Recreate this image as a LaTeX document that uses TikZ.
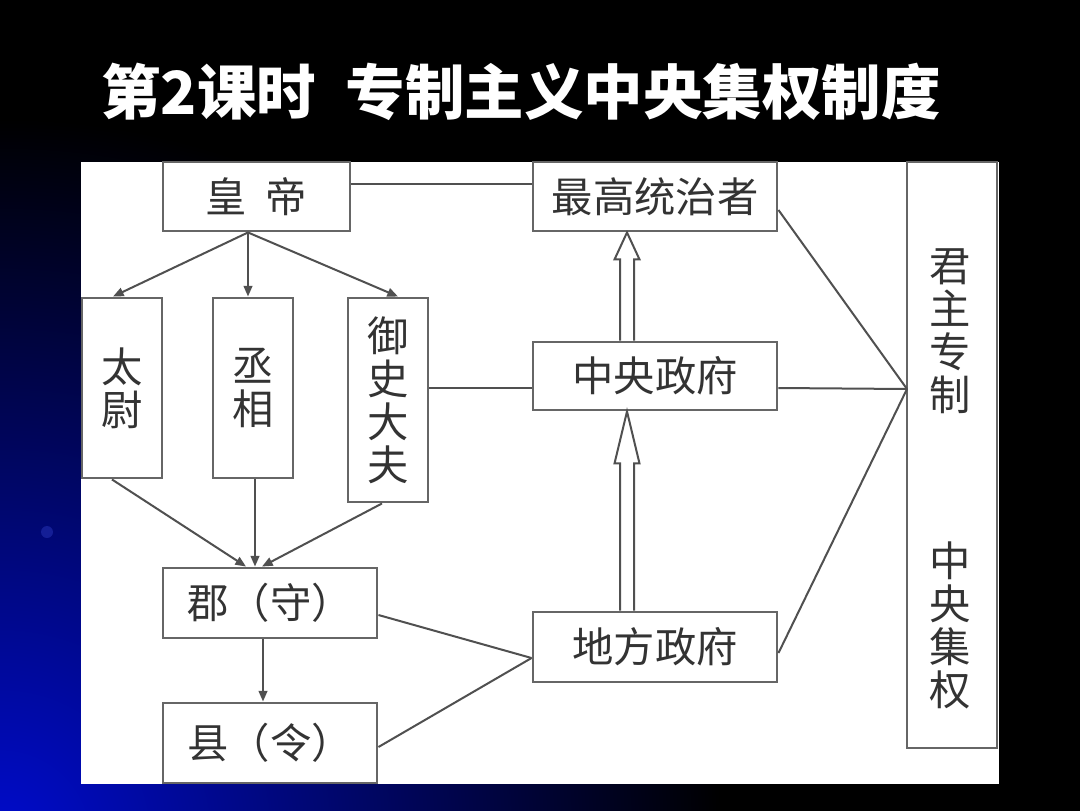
\documentclass[tikz,border=0pt]{standalone}
\usepackage{fontspec}
\newfontfamily\cjk{Noto Sans CJK SC}
\usetikzlibrary{arrows.meta,calc}
\definecolor{ln}{HTML}{505050}
\definecolor{bx}{HTML}{666666}
\definecolor{tx}{HTML}{333333}
\definecolor{bgblue}{RGB}{0,12,205}
\definecolor{dotblue}{RGB}{20,30,150}
\pgfdeclareradialshading{bluecorner}{\pgfpoint{0bp}{0bp}}{color(0bp)=(bgblue); color(11bp)=(black); color(50bp)=(black)}
\begin{document}
\begin{tikzpicture}[x=0.75pt,y=-0.75pt,
  box/.style={draw=bx, line width=2.2pt, fill=white, inner sep=0pt, text=tx,
    font=\cjk\fontsize{31}{32.25}\selectfont, align=center},
  lbl/.style={inner sep=0pt, text=tx, font=\cjk\fontsize{31}{32.25}\selectfont, align=center},
  conn/.style={draw=ln, line width=1.5pt},
  arr/.style={conn, -{Triangle[length=8pt,width=6.5pt]}},
  hollow/.style={draw=ln, line width=1.5pt, fill=white, line join=miter}]
\useasboundingbox (0,0) rectangle (1080,810);
% background
\fill[black] (0,0) rectangle (1080,810);
\begin{scope}
\clip (0,0) rectangle (1080,810);
\shade[shading=bluecorner] (0,840) circle (1640);
\end{scope}
\fill[dotblue] (47,532) circle (6);
% title
\node[text=white, font=\cjk\bfseries\fontsize{44.6}{50}\selectfont, inner sep=0pt] (title) at (521,92)
  {第2课时\hspace{0.5em}专制主义中央集权制度};
% panel
\fill[white] (81,162) rectangle (999,784);
% boxes
\node[box, minimum width=140.25pt, minimum height=51.75pt] (hd) at (256.5,196.5) {皇\hspace{0.45em}帝};
\node[box, minimum width=183pt, minimum height=51.75pt] (zg) at (655,196.5) {最高统治者};
\node[box, minimum width=60pt, minimum height=135pt] (tw) at (122,388) {太\\尉};
\node[box, minimum width=60pt, minimum height=135pt] (cx) at (253,388) {丞\\相};
\node[box, minimum width=60pt, minimum height=153pt] (ys) at (388,400) {御\\史\\大\\夫};
\node[box, minimum width=183pt, minimum height=51pt] (zy) at (655,376) {中央政府};
\node[box, minimum width=160.5pt, minimum height=52.5pt] (jun) at (270,603) {郡（守）};
\node[box, minimum width=160.5pt, minimum height=60pt] (xian) at (270,743) {县（令）};
\node[box, minimum width=183pt, minimum height=52.5pt] (df) at (655,647) {地方政府};
\node[box, minimum width=67.5pt, minimum height=439.5pt] (jq) at (952,455) {};
\node[lbl] (jz) at (950,331) {君\\主\\专\\制};
\node[lbl] (zj) at (950,625) {中\\央\\集\\权};
% connectors
\coordinate (cv) at (907,389);
\coordinate (dl) at ($(df.west)+(0,11)$);
\draw[conn] ($(hd.north east)!0.333!(hd.south east)$) coordinate (h1) -- (h1 -| zg.west);
\draw[conn] ($(ys.east)+(0,-12)$) coordinate (y1) -- (y1 -| zy.west);
\draw[conn] ($(zy.east)+(0,12)$) -- (cv);
\draw[conn] ($(zg.east)+(0,13.5)$) -- (cv);
\draw[conn] ($(df.east)+(0,6)$) -- (cv);
\draw[arr] ($(hd.south)+(-8.5,0)$) -- ($(tw.north)+(-9,0)$);
\draw[arr] ($(hd.south)+(-8.5,0)$) -- ($(cx.north)+(-5,0)$);
\draw[arr] ($(hd.south)+(-8.5,0)$) -- ($(ys.north)+(10,0)$);
\draw[arr] ($(tw.south)+(-10,0)$) -- ($(jun.north)+(-24,0)$);
\draw[arr] ($(cx.south)+(2,0)$) -- ($(jun.north)+(-15,0)$);
\draw[arr] ($(ys.south)+(-6,0)$) -- ($(jun.north)+(-8,0)$);
\draw[arr] ($(jun.south)+(-7,0)$) -- ($(xian.north)+(-7,0)$);
\draw[conn] ($(jun.east)+(0,12)$) -- (dl);
\draw[conn] ($(xian.east)+(0,4)$) -- (dl);
% hollow arrows
\draw[hollow] ($(df.north)+(-35,0)$) -- ($(zy.south)+(-35,52)$) -- ($(zy.south)+(-40.5,52)$)
  -- ($(zy.south)+(-28,0)$) -- ($(zy.south)+(-15.5,52)$) -- ($(zy.south)+(-21,52)$) -- ($(df.north)+(-21,0)$);
\draw[hollow] ($(zy.north)+(-35,0)$) -- ($(zg.south)+(-35,27)$) -- ($(zg.south)+(-40.5,27)$)
  -- ($(zg.south)+(-28,0)$) -- ($(zg.south)+(-15.5,27)$) -- ($(zg.south)+(-21,27)$) -- ($(zy.north)+(-21,0)$);
\end{tikzpicture}
\end{document}
